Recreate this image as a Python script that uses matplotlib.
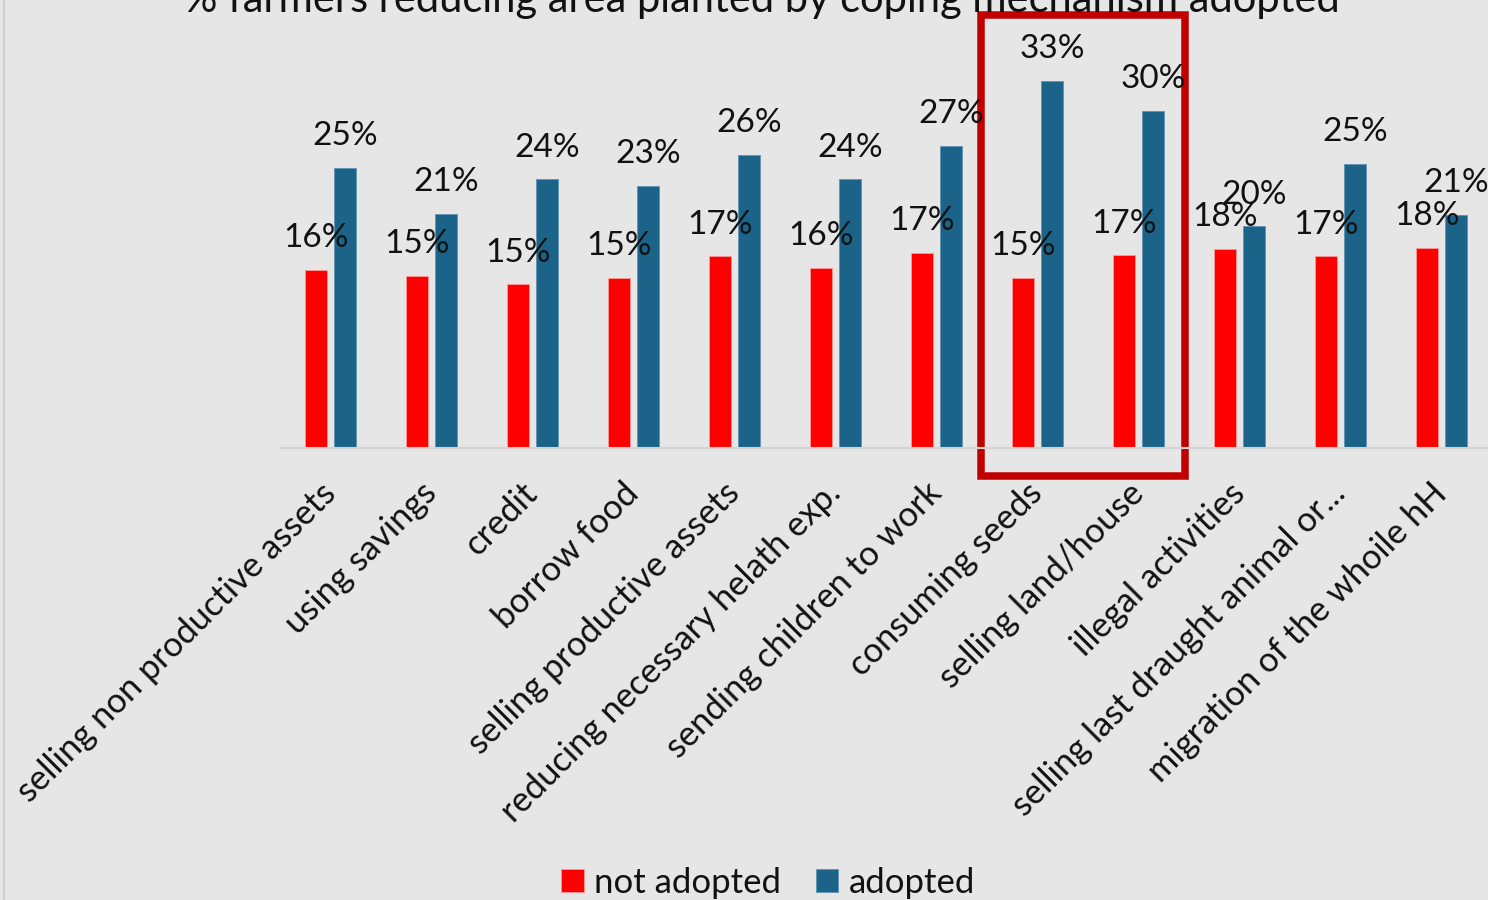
import numpy as np
import matplotlib.pyplot as plt
from matplotlib.patches import Rectangle
from matplotlib.lines import Line2D

plt.rcParams['font.family'] = ['Lato', 'DejaVu Sans']

# coping mechanisms and share (%) of farmers reducing area planted
mechanisms = ['selling non productive assets', 'using savings', 'credit', 'borrow food',
              'selling productive assets', 'reducing necessary helath exp.',
              'sending children to work', 'consuming seeds', 'selling land/house',
              'illegal activities', 'selling last draught animal or...',
              'migration of the whoile hH']
not_adopted = [15.9, 15.4, 14.6, 15.2, 17.1, 16.1, 17.4, 15.2, 17.2, 17.8, 17.1, 17.9]
adopted = [25.0, 20.9, 24.0, 23.4, 26.2, 24.0, 27.0, 32.8, 30.1, 19.8, 25.4, 20.8]

bg = '#e6e6e6'
red = '#ff0000'
blue = '#1b6389'

fig = plt.figure(figsize=(14.88, 9.0), dpi=100, facecolor=bg)
ax = fig.add_axes([280 / 1488, 452 / 900, 1212 / 1488, 388 / 900])
ax.set_facecolor(bg)

x = np.arange(len(mechanisms))
w = 0.22
off = 0.1436
b1 = ax.bar(x - off, not_adopted, w, color=red, edgecolor='#ff9a9a', linewidth=0.6, label='not adopted')
b2 = ax.bar(x + off, adopted, w, color=blue, edgecolor='#5f93b3', linewidth=0.6, label='adopted')

# percentage labels above each bar
for bars in (b1, b2):
    for rect in bars:
        v = rect.get_height()
        ax.annotate(f'{v:.0f}%', (rect.get_x() + rect.get_width() / 2, v),
                    xytext=(0, 12), textcoords='offset points',
                    ha='center', va='bottom', fontsize=24, color='#111111',
                    annotation_clip=False)

ax.set_xlim(-0.5, len(mechanisms) - 0.5)
ax.set_ylim(0, 388 / 11.2)
ax.set_yticks([])
ax.set_xticks(x)
ax.set_xticklabels(mechanisms, rotation=45, ha='right', va='center',
                   rotation_mode='anchor', fontsize=24.8, color='#111111')
ax.tick_params(axis='x', length=0, pad=29)
for s in ('top', 'right', 'left'):
    ax.spines[s].set_visible(False)
ax.spines['bottom'].set_color('#d4d4d4')
ax.spines['bottom'].set_linewidth(1.5)

# highlight box around consuming seeds and selling land/house
box = Rectangle((7 - 0.56, -2.5), (8 + 0.465) - (7 - 0.56), 41.2,
                fill=False, edgecolor='#c00000', linewidth=5.4, clip_on=False)
ax.add_patch(box)

fig.text(762 / 1488, 1.0, '% farmers reducing area planted by coping mechanism adopted',
         ha='center', va='center', fontsize=30, color='#111111')

fig.add_artist(Line2D([4 / 1488, 4 / 1488], [0, 1], color='#cfcfcf', linewidth=1.5))

ax.legend(loc='center', bbox_to_anchor=(768 / 1488, 17 / 900), bbox_transform=fig.transFigure,
          ncol=2, frameon=False, fontsize=25, handlelength=0.65, handleheight=0.65,
          handletextpad=0.3, columnspacing=1.0, labelcolor='#111111')

fig.savefig('out.png', dpi=100, facecolor=bg)
